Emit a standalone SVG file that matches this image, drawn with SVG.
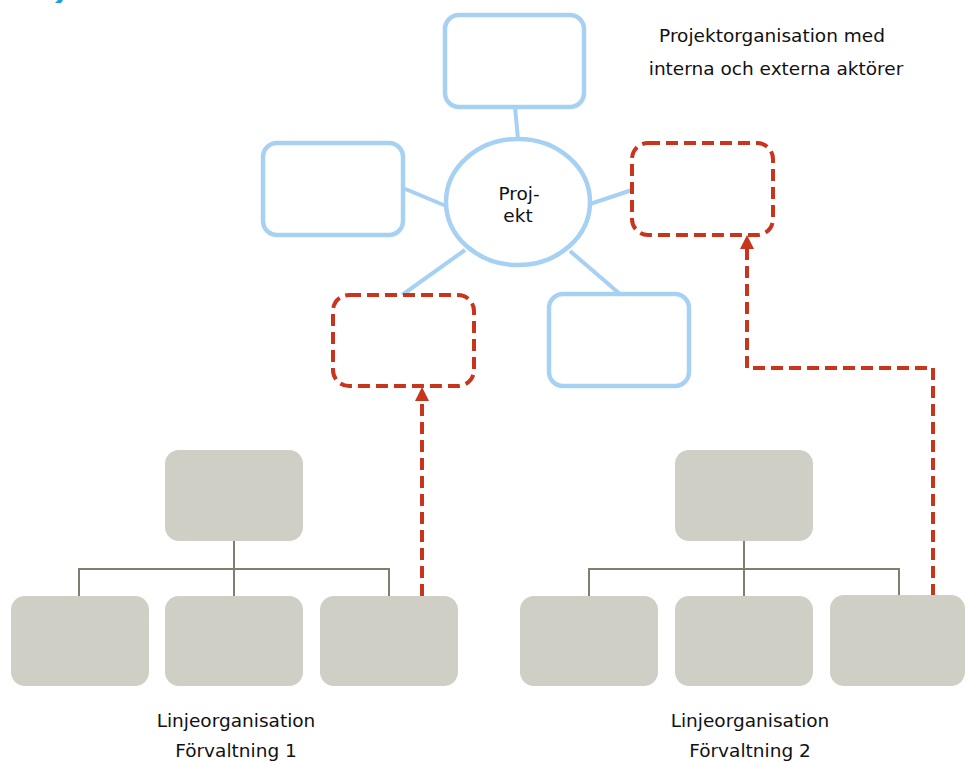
<svg xmlns="http://www.w3.org/2000/svg" width="965" height="762" viewBox="0 0 965 762">
  <style>
    .blue { fill: #ffffff; stroke: #a6d1f3; stroke-width: 4.5; }
    .red { fill: #ffffff; stroke: #c8351c; stroke-width: 4; stroke-dasharray: 12 6; }
    .gray { fill: #d0cfc6; stroke: none; }
    .link { stroke: #a6d1f3; stroke-width: 4; fill: none; }
    .tree { stroke: #7f7e70; stroke-width: 2; fill: none; }
    .flow { stroke: #c8351c; stroke-width: 4; fill: none; stroke-dasharray: 12 6; }
    .head { fill: #c8351c; }
    .lbl { font-family: "DejaVu Sans", Verdana, sans-serif; font-size: 18.5px; fill: #111111; text-anchor: middle; }
  </style>

  <rect x="0" y="0" width="965" height="762" fill="#ffffff"/>
  <path d="M55,3 L58,0 L63,0 L61,3 Z" fill="#1e9fe0"/>

  <text class="lbl" x="772" y="42">Projektorganisation med</text>
  <text class="lbl" x="776" y="75">interna och externa aktörer</text>

  <g id="connectors">
    <line class="link" x1="515" y1="107" x2="518" y2="139"/>
    <line class="link" x1="403" y1="188" x2="446" y2="206"/>
    <line class="link" x1="590" y1="204" x2="632" y2="190"/>
    <line class="link" x1="465" y1="250" x2="402" y2="295"/>
    <line class="link" x1="570" y1="251" x2="620" y2="294"/>

    <path class="tree" d="M234,541 V596 M79,596 V569 H389 V596"/>
    <path class="tree" d="M744,541 V596 M589,596 V569 H899 V596"/>

    <path class="flow" d="M422,596 V401"/>
    <polygon class="head" points="422,387 429,401 415,401"/>
    <path class="flow" d="M933,596 V368 H747 V249"/>
    <polygon class="head" points="747,235 754,249 740,249"/>
  </g>

  <g id="n-top"><rect class="blue" x="445" y="15" width="139" height="92" rx="14"/></g>
  <g id="n-left"><rect class="blue" x="263" y="143" width="140" height="92" rx="14"/></g>
  <g id="n-bottom-right"><rect class="blue" x="549" y="294" width="140" height="92" rx="14"/></g>
  <g id="n-red-1"><rect class="red" x="333" y="295" width="141" height="91" rx="16"/></g>
  <g id="n-red-2"><rect class="red" x="632" y="143" width="141" height="92" rx="16"/></g>

  <g id="n-projekt">
    <ellipse class="blue" cx="518" cy="202" rx="72" ry="63"/>
    <text class="lbl" x="519" y="200">Proj-</text>
    <text class="lbl" x="518" y="222">ekt</text>
  </g>

  <g id="org1-top"><rect class="gray" x="165" y="450" width="138" height="91" rx="14"/></g>
  <g id="org1-a"><rect class="gray" x="11" y="596" width="138" height="90" rx="14"/></g>
  <g id="org1-b"><rect class="gray" x="165" y="596" width="138" height="90" rx="14"/></g>
  <g id="org1-c"><rect class="gray" x="320" y="596" width="138" height="90" rx="14"/></g>

  <g id="org2-top"><rect class="gray" x="675" y="450" width="138" height="91" rx="14"/></g>
  <g id="org2-a"><rect class="gray" x="520" y="596" width="138" height="90" rx="14"/></g>
  <g id="org2-b"><rect class="gray" x="675" y="596" width="138" height="90" rx="14"/></g>
  <g id="org2-c"><rect class="gray" x="830" y="595" width="135" height="91" rx="14"/></g>

  <text class="lbl" x="236" y="727">Linjeorganisation</text>
  <text class="lbl" x="236" y="757">Förvaltning 1</text>
  <text class="lbl" x="750" y="727">Linjeorganisation</text>
  <text class="lbl" x="750" y="757">Förvaltning 2</text>
</svg>
